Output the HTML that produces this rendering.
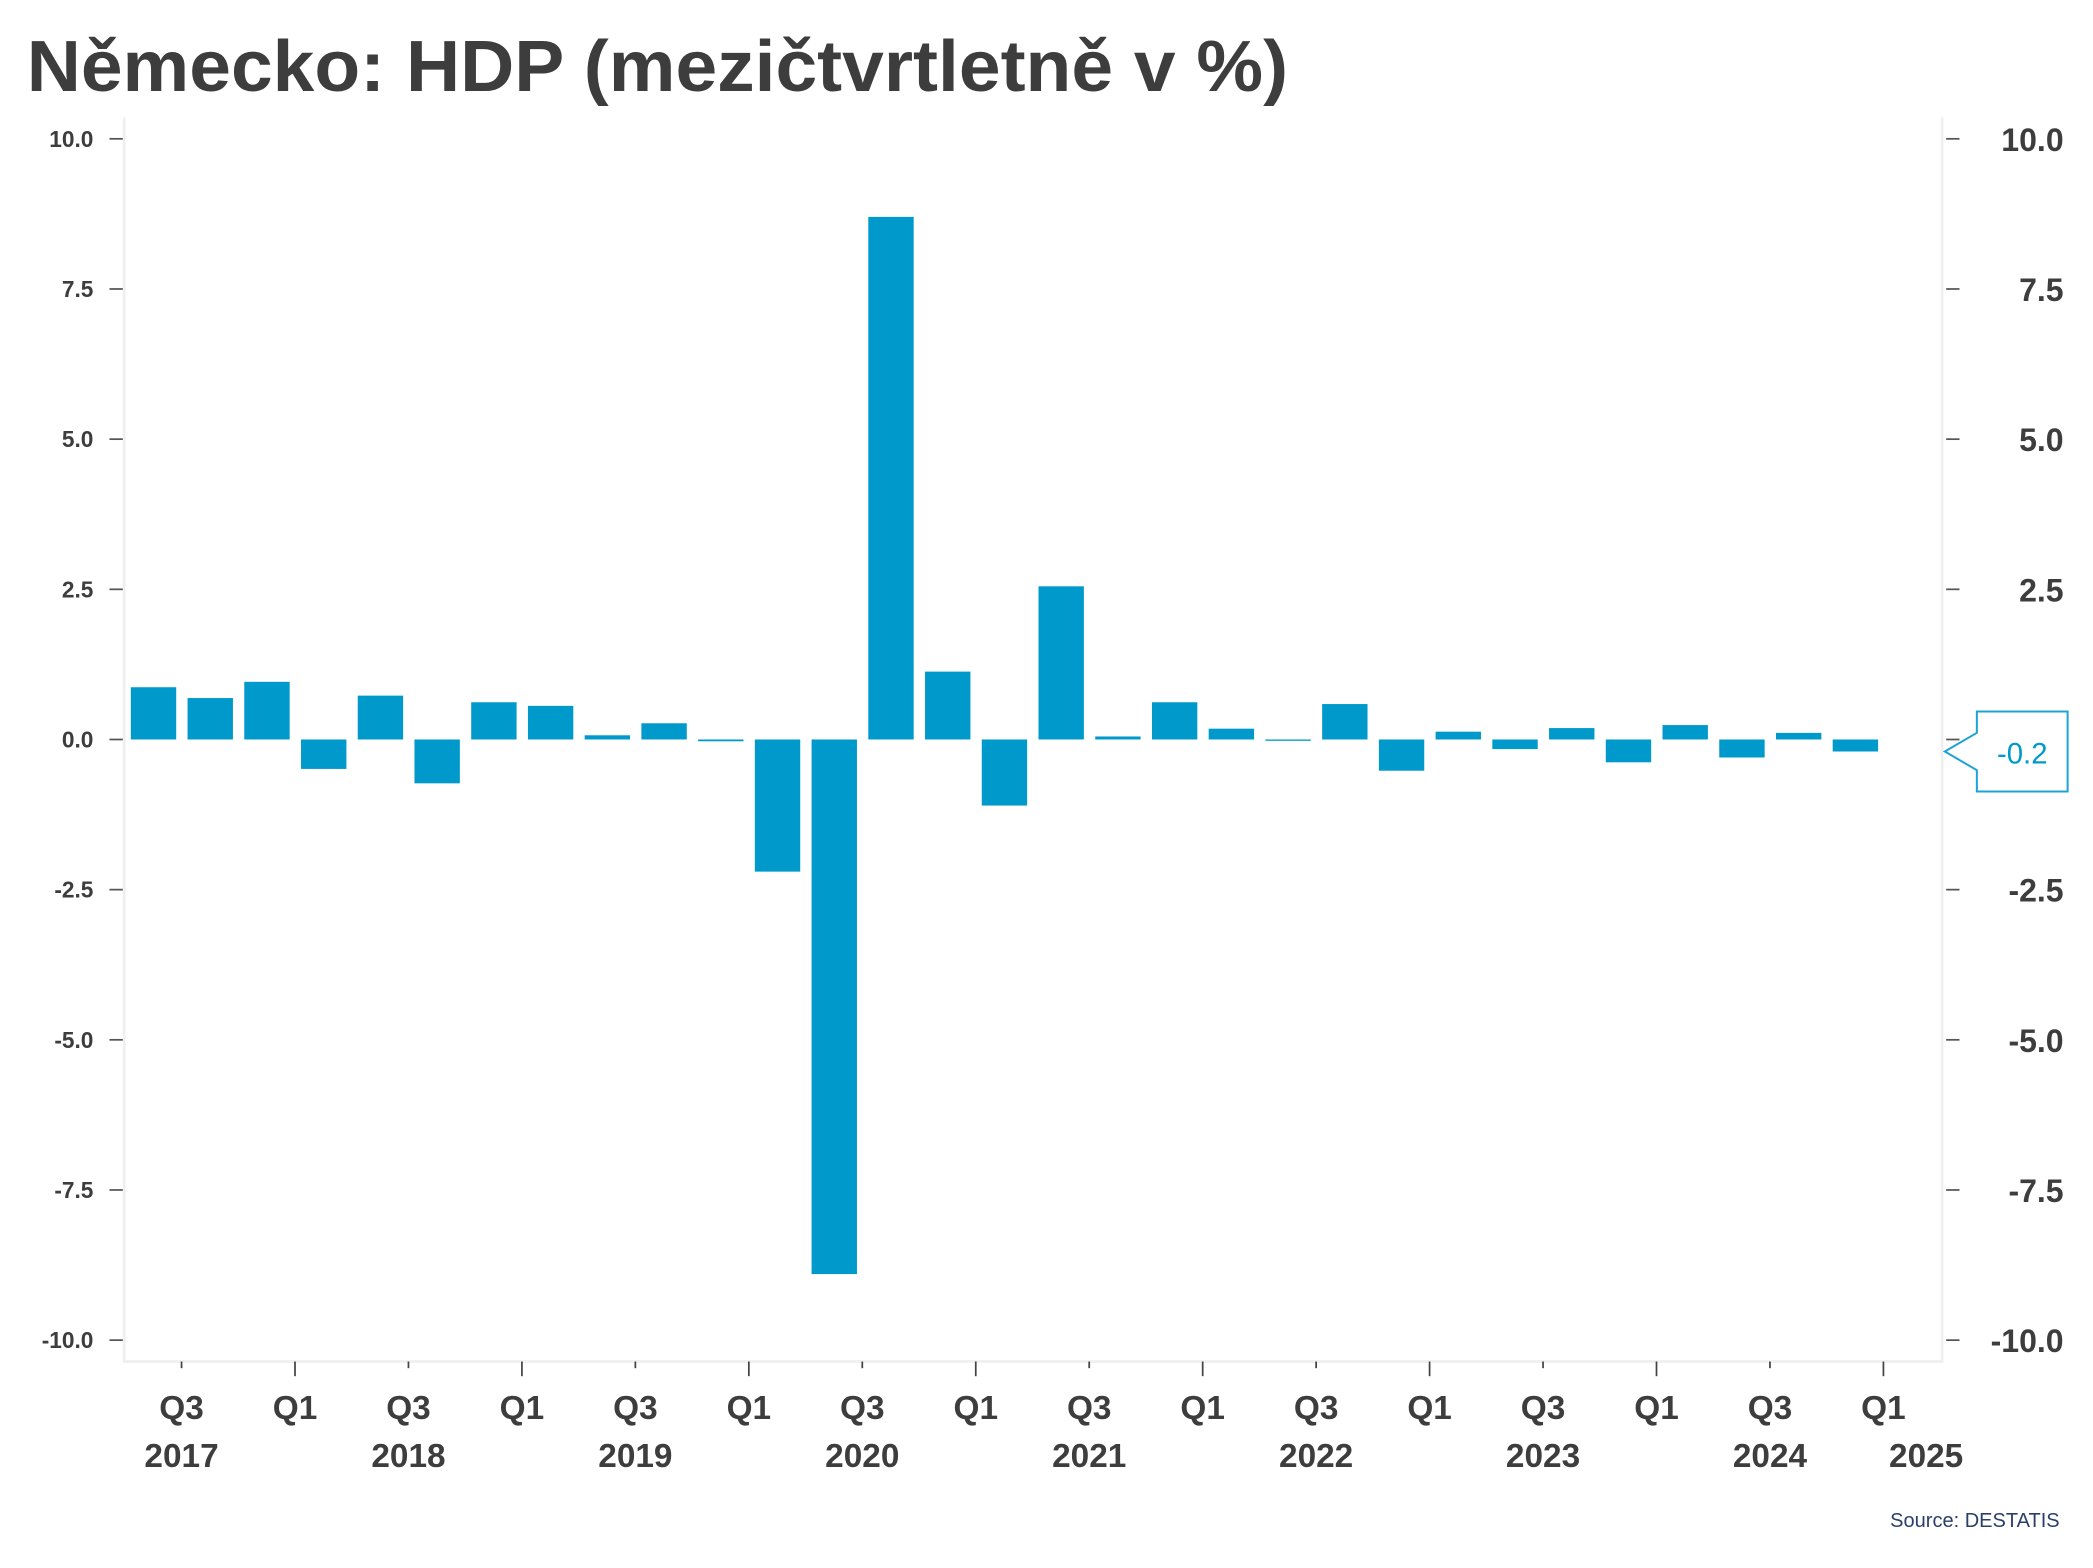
<!DOCTYPE html>
<html><head><meta charset="utf-8"><style>
html,body{margin:0;padding:0;background:#fff}
svg{display:block}
text{font-family:"Liberation Sans",sans-serif}
</style></head><body>
<svg id="chart" width="2093" height="1568" viewBox="0 0 1568 1174.7" xmlns="http://www.w3.org/2000/svg">
<text x="20" y="68" font-size="54" font-weight="bold" fill="#3d3d3d" textLength="945" lengthAdjust="spacingAndGlyphs">Německo: HDP (mezičtvrtletně v %)</text>
<path d="M93 88 L93 1020 L1455 1020 L1455 88" fill="none" stroke="#efefef" stroke-width="2"/>
<g id="yaxes"></g>
<g id="bars"></g>
<g id="xaxis"></g>
<g>
<path d="M1457 563 L1481 549 L1481 533 L1549 533 L1549 593 L1481 593 L1481 577 Z" fill="#fff" stroke="#1ea3d6" stroke-width="1.5"/>
<text x="1515" y="572" font-size="22" fill="#0099cc" text-anchor="middle">-0.2</text>
</g>
<text x="1543" y="1144" font-size="15" fill="#2a3f6a" text-anchor="end">Source: DESTATIS</text>
</svg>
<script>
const values=[0.87,0.69,0.96,-0.49,0.73,-0.73,0.62,0.56,0.07,0.27,-0.03,-2.2,-8.9,8.7,1.13,-1.1,2.55,0.05,0.62,0.18,-0.01,0.59,-0.52,0.13,-0.16,0.19,-0.38,0.24,-0.3,0.11,-0.2];
const yTicks=[10,7.5,5,2.5,0,-2.5,-5,-7.5,-10];
const qLabels=["Q3","Q1","Q3","Q1","Q3","Q1","Q3","Q1","Q3","Q1","Q3","Q1","Q3","Q1","Q3","Q1"];
const yearLabels=["2017","2018","2019","2020","2021","2022","2023","2024","2025"];
const NS="http://www.w3.org/2000/svg";
const y=v=>554-v*45;
const xBar=i=>115+42.5*i;
const xTick=j=>136+85*j;
function mk(tag,attrs,parent,txt){const e=document.createElementNS(NS,tag);for(const k in attrs)e.setAttribute(k,attrs[k]);if(txt!==undefined)e.textContent=txt;parent.appendChild(e);return e;}
const ya=document.getElementById('yaxes');
yTicks.forEach(t=>{
 const lab=t.toFixed(1);
 let a=mk('line',{x1:82,x2:92,y1:y(t),y2:y(t),stroke:'#555','stroke-width':1.3},ya);
 
 
 let b=mk('text',{x:70,y:y(t)+6,'font-size':17,'font-weight':'bold',fill:'#3d3d3d','text-anchor':'end'},ya,lab);
 
 
 let c=mk('line',{x1:1458,x2:1468,y1:y(t),y2:y(t),stroke:'#555','stroke-width':1.3},ya);
 
 
 let d=mk('text',{x:1546,y:y(t)+9,'font-size':24,'font-weight':'bold',fill:'#3d3d3d','text-anchor':'end'},ya,lab);
 
 
});
const bg=document.getElementById('bars');
values.forEach((v,i)=>{
 const top=Math.min(y(v),y(0)),h=Math.max(Math.abs(y(v)-y(0)),1);
 let r=mk('rect',{x:xBar(i)-17,y:top,width:34,height:h,fill:'#0099cc'},bg);
 
 
});
const xa=document.getElementById('xaxis');
qLabels.forEach((q,j)=>{
 const x=xTick(j);
 let l=mk('line',{x1:x,x2:x,y1:1020,y2:q==='Q1'?1031:1025,stroke:'#444','stroke-width':1.3},xa);
 
 
 let t=mk('text',{x:x,y:1063,'font-size':25,'font-weight':'bold',fill:'#3d3d3d','text-anchor':'middle'},xa,q);
 
 
});
yearLabels.forEach((yr,k)=>{
 const x=k<8?xTick(2*k):1443;
 let t=mk('text',{x:x,y:1099,'font-size':25,'font-weight':'bold',fill:'#3d3d3d','text-anchor':'middle'},xa,yr);
 
 
});
</script>
</body></html>
